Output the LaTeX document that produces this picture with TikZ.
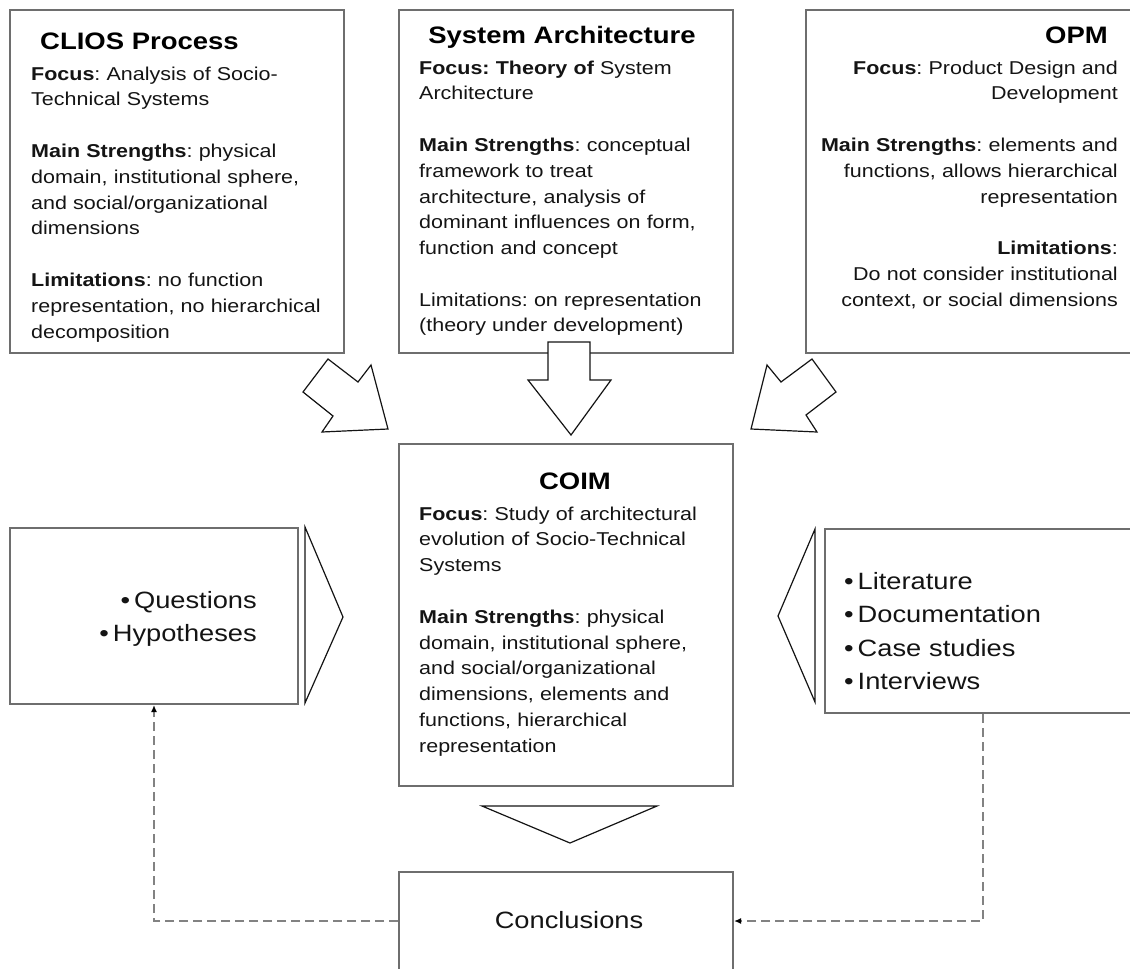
\documentclass[tikz,border=0pt]{standalone}
\usepackage{fontspec}
\setmainfont{Liberation Sans}[FakeStretch=1.155]
\usetikzlibrary{arrows.meta}
\definecolor{boxgray}{RGB}{110,110,110}
\definecolor{dashgray}{RGB}{130,130,130}
\definecolor{inkc}{RGB}{20,20,20}
\frenchspacing
\begin{document}
\begin{tikzpicture}[x=1pt,y=-1pt,
  boxnode/.style={draw=boxgray, line width=2pt, rectangle, inner sep=0pt, anchor=north west},
  fatarrow/.style={draw=inkc, line width=1.2pt, fill=white, line join=miter},
  body/.style={inner sep=0pt, text=inkc, font=\fontsize{18.6}{25.8}\selectfont, text width=330pt, align=left, anchor=base west},
  bodyr/.style={body, align=right, anchor=base east},
  big/.style={inner sep=0pt, text=inkc, font=\fontsize{23.6}{33.5}\selectfont, text width=300pt},
  ttl/.style={inner sep=0pt, text=black, font=\fontsize{23.8}{28}\selectfont\bfseries},
  dashconn/.style={draw=dashgray, line width=2.2pt, dash pattern=on 9pt off 5pt, -{Latex[length=7pt,width=6pt,color=black]}}
]
\useasboundingbox (0,0) rectangle (1130,969);
\clip (0,0) rectangle (1130,969);

% boxes
\node[boxnode, minimum width=334pt, minimum height=343pt] (clios) at (9,9) {};
\node[boxnode, minimum width=334pt, minimum height=343pt] (sysarch) at (398,9) {};
\node[boxnode, minimum width=340pt, minimum height=343pt] (opm) at (805,9) {};
\node[boxnode, minimum width=334pt, minimum height=342pt] (coim) at (398,443) {};
\node[boxnode, minimum width=288pt, minimum height=176pt] (qh) at (9,527) {};
\node[boxnode, minimum width=316pt, minimum height=184pt] (lit) at (824,528) {};
\node[boxnode, minimum width=334pt, minimum height=98pt] (concl) at (398,871) {};

% titles
\node[ttl, anchor=base west] (cliost) at (40,49) {CLIOS Process};
\node[ttl, anchor=base] (sysarcht) at (562,43) {System Architecture};
\node[ttl, anchor=base east] (opmt) at (1108,43) {OPM};
\node[ttl, anchor=base] (coimt) at (575,489) {COIM};

% body texts
\node[body] (cliosb) at (31,80) {\textbf{Focus}: Analysis of Socio-\\Technical Systems\\[25.8pt]\textbf{Main Strengths}: physical\\domain, institutional sphere,\\and social/organizational\\dimensions\\[25.8pt]\textbf{Limitations}: no function\\representation, no hierarchical\\decomposition};
\node[body] (sysarchb) at (419,74) {\textbf{Focus: Theory of} System\\Architecture\\[25.8pt]\textbf{Main Strengths}: conceptual\\framework to treat\\architecture, analysis of\\dominant influences on form,\\function and concept\\[25.8pt]Limitations: on representation\\(theory under development)};
\node[bodyr] (opmb) at (1118,74) {\textbf{Focus}: Product Design and\\Development\\[25.8pt]\textbf{Main Strengths}: elements and\\functions, allows hierarchical\\representation\\[25.8pt]\textbf{Limitations}:\\Do not consider institutional\\context, or social dimensions};
\node[body] (coimb) at (419,520) {\textbf{Focus}: Study of architectural\\evolution of Socio-Technical\\Systems\\[25.8pt]\textbf{Main Strengths}: physical\\domain, institutional sphere,\\and social/organizational\\dimensions, elements and\\functions, hierarchical\\representation};

% bullet lists
\node[big, align=right, anchor=base east] (qht) at (257,608) {•\,Questions\\•\,Hypotheses};
\node[big, align=left, anchor=base west] (litt) at (844,589) {•\,Literature\\•\,Documentation\\•\,Case studies\\•\,Interviews};
\node[big, anchor=base, text width=, align=center] (conclt) at (569,928) {Conclusions};

% fat arrows
\draw[fatarrow] (328,359) -- (358,382) -- (371,365) -- (388,429) -- (322,432) -- (333,416) -- (303,392) -- cycle;
\draw[fatarrow] (548,342) -- (590,342) -- (590,380) -- (611,380) -- (571,435) -- (528,380) -- (548,380) -- cycle;
\draw[fatarrow] (812,359) -- (836,392) -- (806,415) -- (817,432) -- (751,429) -- (767,365) -- (781,382) -- cycle;

% triangles
\draw[fatarrow] (305,527) -- (343,617) -- (305,703) -- cycle;
\draw[fatarrow] (815,529) -- (778,616) -- (815,702) -- cycle;
\draw[fatarrow] (482,806) -- (657,806) -- (570,843) -- cycle;

% dashed connectors
\draw[dashconn] (lit.south) |- (concl.east);
\draw[dashconn] (concl.west) -| (qh.south);
\end{tikzpicture}
\end{document}
